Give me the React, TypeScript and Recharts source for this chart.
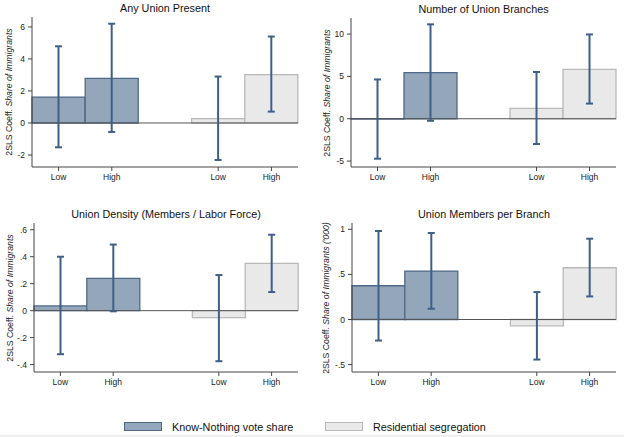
import { Bar, BarChart, Cell, ErrorBar, ReferenceLine, XAxis, YAxis } from "recharts";

const categories = ["Low", "High", "", "Low", "High"];
const categoryIds = ["kl", "kh", "gap", "rl", "rh"];

// Know-Nothing vote share: coefficient, CI low, CI high (Low, High)
const anyUnionKn = [1.62, 2.79];
const anyUnionKnLo = [-1.52, -0.56];
const anyUnionKnHi = [4.79, 6.2];
const anyUnionRs = [0.27, 3.02];
const anyUnionRsLo = [-2.31, 0.71];
const anyUnionRsHi = [2.9, 5.4];

const branchesKn = [-0.03, 5.44];
const branchesKnLo = [-4.72, -0.24];
const branchesKnHi = [4.64, 11.15];
const branchesRs = [1.23, 5.83];
const branchesRsLo = [-2.98, 1.79];
const branchesRsHi = [5.52, 9.96];

const densityKn = [0.035, 0.24];
const densityKnLo = [-0.323, -0.005];
const densityKnHi = [0.4, 0.49];
const densityRs = [-0.052, 0.35];
const densityRsLo = [-0.375, 0.138];
const densityRsHi = [0.264, 0.563];

const perBranchKn = [0.374, 0.537];
const perBranchKnLo = [-0.233, 0.119];
const perBranchKnHi = [0.981, 0.959];
const perBranchRs = [-0.07, 0.574];
const perBranchRsLo = [-0.444, 0.256];
const perBranchRsHi = [0.304, 0.896];

const ticksAny = [-2, 0, 2, 4, 6];
const ticksBranches = [-5, 0, 5, 10];
const ticksDensity = [-0.4, -0.2, 0, 0.2, 0.4, 0.6];
const ticksPerBranch = [-0.5, 0, 0.5, 1];

const FONT = '"Liberation Sans", Arial, Helvetica, sans-serif';
const KN_FILL = "#93a6ba";
const KN_STROKE = "#4f6986";
const RS_FILL = "#e9e9e9";
const RS_STROKE = "#b9b9b9";
const ERR = "#3f5f87";
const AXIS = "#444";

function buildRows(kn, knLo, knHi, rs, rsLo, rsHi) {
  const rows: any[] = [];
  categoryIds.forEach((id, i) => {
    let v = null;
    let err = null;
    let grp = "";
    if (i < 2) {
      v = kn[i];
      err = [kn[i] - knLo[i], knHi[i] - kn[i]];
      grp = "kn";
    } else if (i > 2) {
      const j = i - 3;
      v = rs[j];
      err = [rs[j] - rsLo[j], rsHi[j] - rs[j]];
      grp = "rs";
    }
    rows.push({ id, label: categories[i], v, err, grp });
  });
  return rows;
}

const stata = (v: number) => String(v).replace("0.", ".");

function Panel(props) {
  const { left, top, title, rows, domain, ticks, yWidth, mRight, mTop, mBottom, labelX, extra } = props;
  const plotLeft = yWidth;
  const plotRight = 312 - mRight;
  return (
    <div style={{ position: "absolute", left, top, width: 312, height: 200 }}>
      <div
        style={{
          position: "absolute",
          left: plotLeft,
          width: plotRight - plotLeft,
          top: mTop - 15,
          textAlign: "center",
          fontSize: 10.8,
          color: "#111",
          fontFamily: FONT,
          lineHeight: "12px",
        }}
      >
        {title}
      </div>
      <div
        style={{
          position: "absolute",
          left: labelX - 100,
          top: mTop + (200 - mTop - mBottom) / 2 - 6,
          width: 200,
          height: 12,
          lineHeight: "12px",
          textAlign: "center",
          fontSize: 8.7,
          color: "#222",
          fontFamily: FONT,
          transform: "rotate(-90deg)",
          whiteSpace: "nowrap",
        }}
      >
        2SLS Coeff. <i>Share of Immigrants{extra}</i>
      </div>
      <BarChart
        width={312}
        height={200}
        data={rows}
        barCategoryGap={0}
        barGap={0}
        margin={{ top: mTop, right: mRight, bottom: mBottom - 20, left: 0 }}
      >
        <XAxis
          dataKey="id"
          ticks={["kl", "kh", "rl", "rh"]}
          tickFormatter={(id) => categories[categoryIds.indexOf(id)]}
          height={20}
          tickSize={4}
          tickMargin={3}
          stroke={AXIS}
          tick={{ fontSize: 8.5, fill: "#222", fontFamily: FONT }}
        />
        <YAxis
          type="number"
          domain={domain}
          ticks={ticks}
          width={yWidth}
          tickSize={4}
          tickMargin={3}
          stroke={AXIS}
          allowDataOverflow
          tickFormatter={stata}
          tick={{ fontSize: 8.5, fill: "#222", fontFamily: FONT }}
        />
        <ReferenceLine y={0} stroke="#555" strokeWidth={1} />
        <Bar dataKey="v" isAnimationActive={false} strokeWidth={1.3}>
          {rows.map((r, i) => (
            <Cell
              key={i}
              fill={r.grp === "kn" ? KN_FILL : RS_FILL}
              stroke={r.grp === "kn" ? KN_STROKE : RS_STROKE}
            />
          ))}
          <ErrorBar dataKey="err" direction="y" width={3.5} strokeWidth={2} stroke={ERR} />
        </Bar>
      </BarChart>
    </div>
  );
}

export default function App() {
  const legendText = { position: "absolute", top: 421, fontSize: 10.8, color: "#111", fontFamily: FONT } as const;
  return (
    <div style={{ position: "absolute", left: 0, top: 0, width: 624, height: 437, background: "#fff", overflow: "hidden" }}>
      <Panel
        left={0}
        top={0}
        title="Any Union Present"
        rows={buildRows(anyUnionKn, anyUnionKnLo, anyUnionKnHi, anyUnionRs, anyUnionRsLo, anyUnionRsHi)}
        domain={[-2.75, 6.62]}
        ticks={ticksAny}
        yWidth={32}
        mRight={14}
        mTop={17}
        mBottom={33}
        labelX={8.5}
        extra=""
      />
      <Panel
        left={312}
        top={0}
        title="Number of Union Branches"
        rows={buildRows(branchesKn, branchesKnLo, branchesKnHi, branchesRs, branchesRsLo, branchesRsHi)}
        domain={[-5.7, 11.9]}
        ticks={ticksBranches}
        yWidth={39}
        mRight={8}
        mTop={18}
        mBottom={33}
        labelX={15}
        extra=""
      />
      <Panel
        left={0}
        top={200}
        title="Union Density (Members / Labor Force)"
        rows={buildRows(densityKn, densityKnLo, densityKnHi, densityRs, densityRsLo, densityRsHi)}
        domain={[-0.455, 0.65]}
        ticks={ticksDensity}
        yWidth={34}
        mRight={14}
        mTop={23}
        mBottom={28}
        labelX={10}
        extra=""
      />
      <Panel
        left={312}
        top={200}
        title="Union Members per Branch"
        rows={buildRows(perBranchKn, perBranchKnLo, perBranchKnHi, perBranchRs, perBranchRsLo, perBranchRsHi)}
        domain={[-0.582, 1.07]}
        ticks={ticksPerBranch}
        yWidth={40}
        mRight={8}
        mTop={23}
        mBottom={28}
        labelX={13.5}
        extra=" ('000)"
      />
      <div style={{ position: "absolute", left: 124, top: 422, width: 38, height: 9, background: KN_FILL, border: `1px solid ${KN_STROKE}`, boxSizing: "border-box" }} />
      <div style={{ ...legendText, left: 172 }}>Know-Nothing vote share</div>
      <div style={{ position: "absolute", left: 325, top: 422, width: 38, height: 9, background: RS_FILL, border: `1px solid ${RS_STROKE}`, boxSizing: "border-box" }} />
      <div style={{ ...legendText, left: 373 }}>Residential segregation</div>
      <div style={{ position: "absolute", left: 0, top: 435, width: 624, height: 2, background: "#eee" }} />
    </div>
  );
}
